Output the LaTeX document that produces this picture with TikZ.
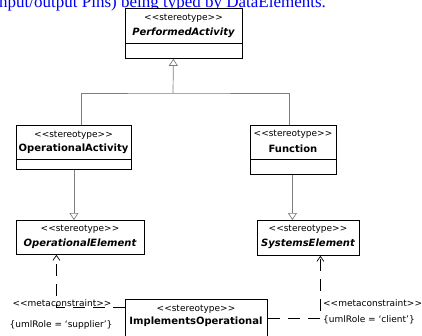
\documentclass[tikz,border=0pt]{standalone}
\usepackage{fontspec}
\setmainfont{Liberation Serif}
\newfontfamily\umlfont{DejaVu Sans}
\usetikzlibrary{arrows.meta}
\definecolor{linkblue}{RGB}{0,0,238}
\definecolor{genGray}{RGB}{125,125,125}
\tikzset{
	classA/.style={
		draw=black, line width=0.8pt, fill=white, inner sep=0pt, anchor=north west
	},
	stereoA/.style={inner sep=0pt, font={\umlfont\fontsize{9}{10}\selectfont}},
	nameA/.style={inner sep=0pt, font={\umlfont\bfseries\fontsize{10}{12}\selectfont}},
	absA/.style={inner sep=0pt, font={\umlfont\bfseries\itshape\fontsize{10}{12}\selectfont}},
	roleA/.style={inner sep=0pt, font={\umlfont\fontsize{9}{11}\selectfont}},
	genA/.style={draw=genGray, line width=0.7pt},
	depA/.style={draw=black, line width=0.7pt, dash pattern=on 12pt off 8pt},
	>={Straight Barb[length=5pt,width=7pt]},
}
\def\genTip{{Triangle[open,length=7pt,width=9pt]}}

\begin{document}
\begin{tikzpicture}[x=1pt, y=-1pt]
\useasboundingbox (0,0) rectangle (422,335);
\clip (0,0) rectangle (422,335);
\node[anchor=base west, inner sep=0pt, text=linkblue, font={\fontsize{17}{20}\selectfont}]
  (intro) at (-1,7.5) {nput/output Pins) being typed by DataElements.};
% classes
\node[classA, minimum width=117pt, minimum height=50pt] (pa) at (125,8) {};
\node[stereoA] (pa-st) at (183.5,18) {<<stereotype>>};
\node[absA] (pa-nm) at (183.5,33) {PerformedActivity};
\draw[line width=0.8pt] ([yshift=-35pt]pa.north west) -- ([yshift=-35pt]pa.north east);
\node[classA, minimum width=115pt, minimum height=44pt] (oa) at (16,125) {};
\node[stereoA] (oa-st) at (73.5,135) {<<stereotype>>};
\node[nameA] (oa-nm) at (73.5,149) {OperationalActivity};
\draw[line width=0.8pt] ([yshift=-34pt]oa.north west) -- ([yshift=-34pt]oa.north east);
\node[classA, minimum width=86pt, minimum height=49pt] (fn) at (250,125) {};
\node[stereoA] (fn-st) at (293,134) {<<stereotype>>};
\node[nameA] (fn-nm) at (293,149) {Function};
\draw[line width=0.8pt] ([yshift=-34pt]fn.north west) -- ([yshift=-34pt]fn.north east);
\node[classA, minimum width=128pt, minimum height=34pt] (oe) at (16,220) {};
\node[stereoA] (oe-st) at (80,229) {<<stereotype>>};
\node[absA] (oe-nm) at (80,244) {OperationalElement};
\node[classA, minimum width=102pt, minimum height=35pt] (se) at (257,220) {};
\node[stereoA] (se-st) at (308,229) {<<stereotype>>};
\node[absA] (se-nm) at (308,244) {SystemsElement};
\node[classA, minimum width=142pt, minimum height=50pt] (io) at (125,299) {};
\node[stereoA] (io-st) at (196,309) {<<stereotype>>};
\node[nameA] (io-nm) at (196,322) {ImplementsOperational};
% generalizations
\coordinate (gjoin) at (173,93);
\draw[genA] ([xshift=7.5pt]oa.north) |- (gjoin) -| ([xshift=-4pt]fn.north);
\draw[genA, -\genTip] (gjoin) -- ([xshift=-10.5pt]pa.south);
\draw[genA, -\genTip] (oa.south) -- (oa.south |- oe.north);
\draw[genA, -\genTip] ([xshift=-1pt]fn.south) -- ([xshift=-1pt]fn.south |- se.north);
% metaconstraints
\draw[depA, ->] ([yshift=-8pt]io.north west) -| ([xshift=-24pt]oe.south);
\draw[depA, ->] ([yshift=-19pt]io.north east) -| ([xshift=12pt]se.south);
\node[roleA] (sup-mc) at (62,303) {<<metaconstraint>>};
\node[roleA] (sup-role) at (61,325) {\{umlRole = ‘supplier’\}};
\node[roleA, anchor=west] (cli-mc) at (323,303) {<<metaconstraint>>};
\node[roleA, anchor=west] (cli-role) at (323,320) {\{umlRole = ‘client’\}};
\end{tikzpicture}
\end{document}
